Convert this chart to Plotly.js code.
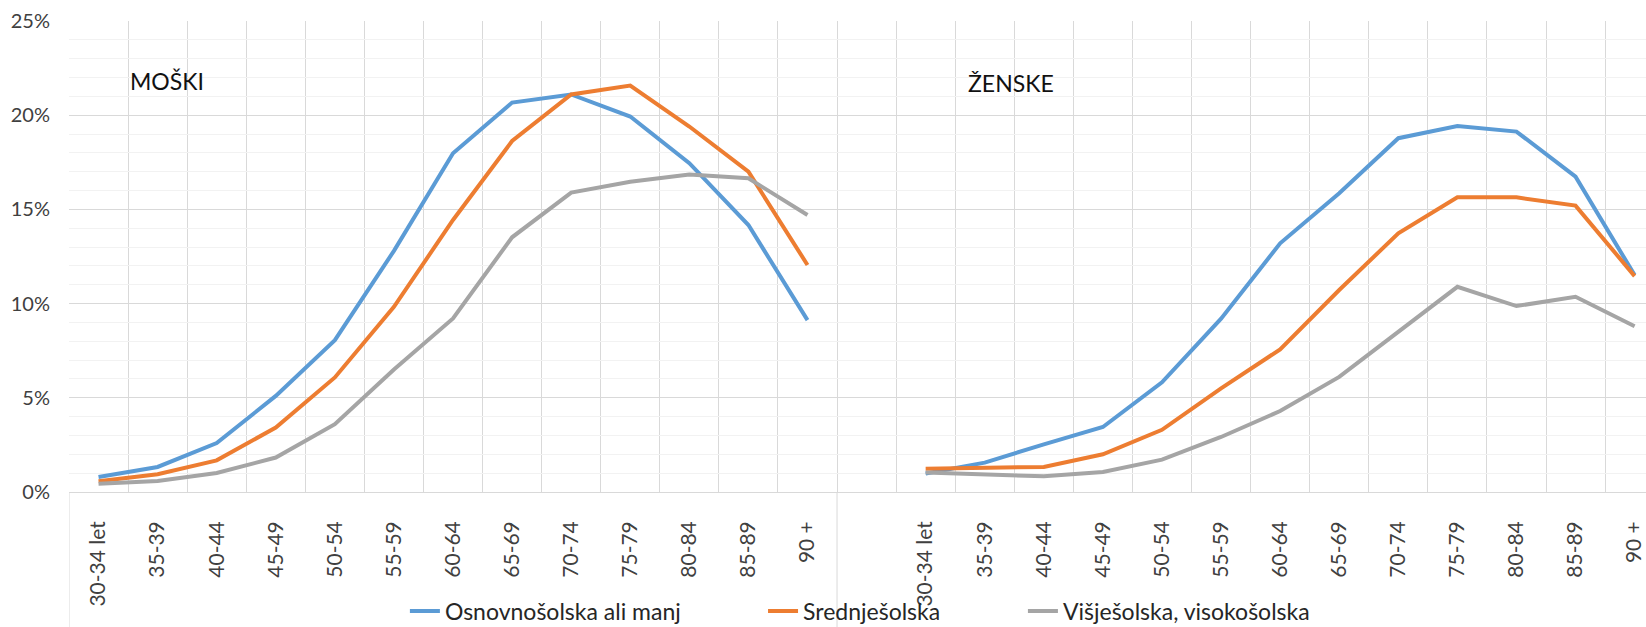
<!DOCTYPE html>
<html>
<head>
<meta charset="utf-8">
<script src="https://cdn.plot.ly/plotly-3.0.1.min.js"></script>
<style>html,body{margin:0;padding:0;background:#fff;}#chart{width:1646px;height:627px;}</style>
</head>
<body>
<div id="chart"></div>
<script>
// Age groups (same for both panels)
const ageGroups = ['30-34 let','35-39','40-44','45-49','50-54','55-59','60-64','65-69','70-74','75-79','80-84','85-89','90 +'];
const seriesNames = ['Osnovnošolska ali manj','Srednješolska','Višješolska, visokošolska'];
const seriesColors = ['#5B9BD5','#ED7D31','#A5A5A5'];
const panelLabels = ['MOŠKI','ŽENSKE'];

// Values in percent
const menOsnovna  = [0.80,1.33,2.60,5.10,8.06,12.8,17.98,20.67,21.1,19.93,17.45,14.17,9.12];
const menSrednja  = [0.57,0.94,1.68,3.42,6.08,9.83,14.44,18.63,21.1,21.57,19.4,17.0,12.05];
const menVisja    = [0.44,0.58,1.01,1.83,3.6,6.5,9.21,13.52,15.89,16.47,16.85,16.65,14.70];
const womenOsnovna = [0.98,1.56,2.53,3.45,5.82,9.2,13.2,15.86,18.78,19.43,19.13,16.74,11.51];
const womenSrednja = [1.24,1.28,1.33,2.0,3.3,5.5,7.57,10.72,13.73,15.64,15.64,15.2,11.46];
const womenVisja   = [1.03,0.94,0.83,1.06,1.72,2.92,4.3,6.11,8.5,10.89,9.87,10.36,8.8];

const n = ageGroups.length;
const gapIdx = n;                       // one empty category between the panels
const menX = ageGroups.map((_, i) => i);
const womenX = ageGroups.map((_, i) => i + n + 1);
const allX = menX.concat([gapIdx], womenX);
const tickVals = menX.concat(womenX);
const tickText = ageGroups.concat(ageGroups);
const boundaries = [];
for (let i = 0; i <= 2 * n + 1; i++) boundaries.push(i - 0.5);

const menSeries = [menOsnovna, menSrednja, menVisja];
const womenSeries = [womenOsnovna, womenSrednja, womenVisja];

const FONT = 'Lato, "Open Sans", sans-serif';
const legendIds = ['legend', 'legend2', 'legend3'];
const legendX = [0.213, 0.4401, 0.6049];

const traces = seriesNames.map((name, s) => ({
  type: 'scatter',
  mode: 'lines',
  name: name,
  x: allX,
  y: menSeries[s].concat([null], womenSeries[s]),
  connectgaps: false,
  line: {color: seriesColors[s], width: 4},
  legend: legendIds[s],
  hoverinfo: 'skip'
}));

const layout = {
  width: 1646,
  height: 627,
  margin: {l: 69, r: 0, t: 21, b: 135, autoexpand: false},
  paper_bgcolor: '#ffffff',
  plot_bgcolor: '#ffffff',
  font: {family: FONT, size: 20, color: '#404040'},
  showlegend: true,
  xaxis: {
    type: 'linear',
    range: [-0.5, -0.5 + (1646 - 69) / 59.08],
    tickmode: 'array',
    tickvals: tickVals,
    ticktext: tickText,
    tickangle: -90,
    ticks: '',
    ticklabelstandoff: 24,
    showgrid: false,
    zeroline: false,
    showline: false,
    automargin: false,
    tickfont: {family: FONT, size: 21, color: '#404040'},
    minor: {tickmode: 'array', tickvals: boundaries, showgrid: true, gridcolor: '#D9D9D9', gridwidth: 1, ticks: ''},
    fixedrange: true
  },
  yaxis: {
    range: [0, 25],
    tickmode: 'linear',
    tick0: 0,
    dtick: 5,
    ticksuffix: '%',
    ticks: '',
    ticklabelstandoff: 18,
    showgrid: true,
    gridcolor: '#D9D9D9',
    gridwidth: 1,
    zeroline: true,
    zerolinecolor: '#D9D9D9',
    zerolinewidth: 1,
    showline: false,
    automargin: false,
    tickfont: {family: FONT, size: 20, color: '#404040'},
    minor: {tickmode: 'linear', tick0: 0, dtick: 1, showgrid: true, gridcolor: '#F2F2F2', gridwidth: 1, ticks: ''},
    fixedrange: true
  },
  annotations: [
    {text: panelLabels[0], x: 0.5, y: 21.8, xref: 'x', yref: 'y', xanchor: 'left', yanchor: 'middle', showarrow: false,
     font: {family: FONT, size: 23, color: '#111111'}},
    {text: panelLabels[1], x: 14.69, y: 21.7, xref: 'x', yref: 'y', xanchor: 'left', yanchor: 'middle', showarrow: false,
     font: {family: FONT, size: 23, color: '#111111'}}
  ],
  shapes: [
    {type: 'line', xref: 'x', yref: 'paper', x0: -0.5, x1: -0.5, y0: 0, y1: -0.29, line: {color: '#D9D9D9', width: 1}},
    {type: 'line', xref: 'x', yref: 'paper', x0: n - 0.5, x1: n - 0.5, y0: 0, y1: -0.29, line: {color: '#D9D9D9', width: 1}}
  ]
};

legendIds.forEach((id, s) => {
  layout[id] = {
    orientation: 'h',
    x: legendX[s], xanchor: 'left',
    y: -0.2527, yanchor: 'middle',
    font: {family: FONT, size: 23, color: '#262626'},
    bgcolor: 'rgba(0,0,0,0)'
  };
});

Plotly.newPlot('chart', traces, layout, {displayModeBar: false, staticPlot: true});
</script>
</body>
</html>
